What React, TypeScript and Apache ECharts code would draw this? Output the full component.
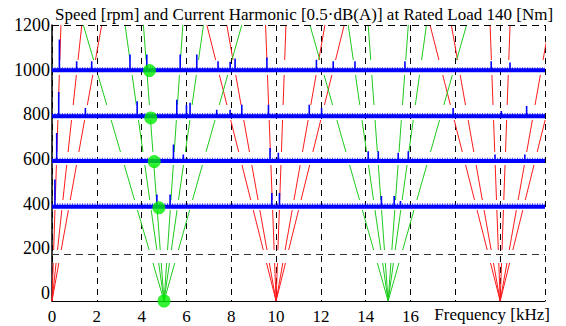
import React, { useEffect, useRef } from "react";
import * as echarts from "echarts";

// ---------- axes ----------
const X_MIN = 0;
const X_MAX = 22;
const X_INTERVAL = 2;
const Y_MIN = -35;
const Y_MAX = 1200;
const X_LABELS = [0, 2, 4, 6, 8, 10, 12, 14, 16];
const Y_LABELS = [0, 200, 400, 600, 800, 1000, 1200];
const DIVIDER_LEVEL = 176;

const TITLE = "Speed [rpm] and Current Harmonic [0.5\u00b7dB(A)] at Rated Load 140 [Nm]";
const X_NAME = "Frequency [kHz]";

// ---------- spectra baselines (speed levels) ----------
const SPEED_LEVELS = [997, 792, 592, 387];
// height of the noise floor's ragged top above each baseline
const NOISE_FLOOR_TOP = [10, 10, 9, 11];

// spikes: [frequency kHz, top value]
const SPIKES_1000: [number, number][] = [
  [0.33, 1135], [1.1, 1038], [1.77, 1038], [3.48, 1068], [4.23, 1068],
  [5.72, 1068], [6.46, 1068], [7.41, 1038], [7.95, 1035], [8.17, 1050],
  [9.59, 1055], [11.8, 1045], [12.55, 1038], [13.52, 1038], [15.75, 1038],
  [19.6, 1038], [20.44, 1032],
];
const SPIKES_800: [number, number][] = [
  [0.3, 900], [1.49, 829], [3.8, 859], [5.57, 866], [6.0, 843], [6.16, 852],
  [7.35, 821], [7.95, 821], [8.47, 843], [9.66, 843], [11.48, 843],
  [12.03, 829], [17.9, 829], [20.05, 815], [21.18, 838],
];
const SPIKES_600: [number, number][] = [
  [0.21, 717], [5.42, 665], [5.86, 620], [9.73, 650], [10.1, 628],
  [14.11, 635], [14.56, 635], [15.45, 628], [15.9, 635], [19.77, 620], [21.1, 620],
];
const SPIKES_400: [number, number][] = [
  [0.13, 509], [4.68, 442], [5.27, 442], [9.81, 448], [10.15, 448],
  [14.7, 435], [15.27, 435], [15.55, 412],
];

// ---------- harmonic fans: centre frequency at bottom, frequencies reached at the top ----------
const RED_CENTERS = [0, 10, 20];
const RED_TOPS = [
  [0.4, 1.33, 2.22],
  [6.91, 7.8, 9.53, 10.44, 12.18, 13.04],
  [16.87, 17.82, 19.55, 20.44, 22.19, 23.06],
];
const GREEN_CENTERS = [5, 15];
const GREEN_TOPS = [
  [1.4, 3.26, 4.08, 5.84, 6.76, 8.47],
  [11.51, 13.22, 14.11, 15.9, 16.71, 18.5],
];

// ---------- green markers ----------
const DOT_FREQS = [4.35, 4.41, 4.56, 4.77, 5.0];
const DOT_SPEEDS = [996, 784, 589, 382, -35];

// ---------- layout / style ----------
const W = 566;
const H = 326;
const GRID = { left: 52, right: 21, top: 25, bottom: 25 };
const FONT = "'Liberation Serif', 'DejaVu Serif', serif";
const RED = "#ff1a1a";
const GREEN = "#1ecb1e";
const BLUE = "#0000ff";
const DOT = "#00ee00";
// dash / gap lengths (px, bottom to top) of the broken fan lines
const FAN_DASH = [38, 13, 40, 10, 35, 13, 32, 15, 30, 15, 35, 40];

export default function App() {
  const ref = useRef<HTMLDivElement>(null);

  useEffect(() => {
    if (!ref.current) return;
    const chart = echarts.init(ref.current, undefined, { renderer: "svg" });

    const plotW = W - GRID.left - GRID.right;
    const plotH = H - GRID.top - GRID.bottom;
    const pxPerX = plotW / (X_MAX - X_MIN);

    const fanSeries = (centers: number[], tops: number[][], color: string) => {
      const out: any[] = [];
      centers.forEach((c, i) => {
        tops[i].forEach((t) => {
          const dx = (t - c) * pxPerX;
          const k = Math.sqrt(1 + (dx / plotH) * (dx / plotH));
          out.push({
            type: "line",
            data: [
              [c, Y_MIN],
              [t, Y_MAX],
            ],
            symbol: "none",
            silent: true,
            clip: true,
            z: 3,
            lineStyle: { color, width: 1, type: FAN_DASH.map((d) => d * k) },
          });
        });
      });
      return out;
    };

    const baselineSeries = SPEED_LEVELS.map((lv) => ({
      type: "line",
      data: [
        [X_MIN, lv],
        [X_MAX, lv],
      ],
      symbol: "none",
      silent: true,
      z: 4,
      lineStyle: { color: BLUE, width: 4 },
    }));

    const fuzzSeries = SPEED_LEVELS.map((lv, i) => ({
      type: "line",
      data: [
        [X_MIN, lv + NOISE_FLOOR_TOP[i]],
        [X_MAX, lv + NOISE_FLOOR_TOP[i]],
      ],
      symbol: "none",
      silent: true,
      z: 4,
      lineStyle: { color: BLUE, width: 2, type: [1, 1.5], opacity: 0.7 },
    }));

    const spikeSets = [SPIKES_1000, SPIKES_800, SPIKES_600, SPIKES_400];
    const spikeSeries = spikeSets.map((set, i) => {
      const lv = SPEED_LEVELS[i];
      const data: number[][] = [];
      set.forEach(([f, top]) => {
        data.push([f, lv], [f, top], [f, lv]);
      });
      return {
        type: "line",
        data,
        symbol: "none",
        silent: true,
        z: 4,
        lineStyle: { color: BLUE, width: 1.6 },
      };
    });

    const option: any = {
      animation: false,
      backgroundColor: "#ffffff",
      title: {
        text: TITLE,
        left: 50,
        top: 1,
        textStyle: { fontFamily: FONT, fontSize: 17, fontWeight: "normal", color: "#000" },
      },
      grid: { ...GRID },
      xAxis: {
        type: "value",
        min: X_MIN,
        max: X_MAX,
        interval: X_INTERVAL,
        axisLine: { show: true, onZero: false, lineStyle: { color: "#000", width: 1 } },
        axisTick: { show: false },
        splitLine: { show: true, lineStyle: { color: "#000", width: 1, type: [6, 5] } },
        axisLabel: {
          customValues: X_LABELS,
          margin: 7,
          fontFamily: FONT,
          fontSize: 17,
          color: "#000",
          formatter: (v: number) => String(v),
        },
      },
      yAxis: {
        type: "value",
        min: Y_MIN,
        max: Y_MAX,
        axisLine: { show: true, onZero: false, lineStyle: { color: "#000", width: 1.5 } },
        axisTick: { show: false },
        splitLine: { show: false },
        axisLabel: {
          customValues: Y_LABELS,
          margin: 2,
          fontFamily: FONT,
          fontSize: 18,
          color: "#000",
          formatter: (v: number) => String(v),
        },
      },
      graphic: [
        {
          type: "text",
          right: 16,
          top: 306,
          style: { text: X_NAME, font: `17px ${FONT}`, fill: "#000" },
          silent: true,
        },
      ],
      series: [
        {
          type: "line",
          data: [],
          markLine: {
            silent: true,
            symbol: "none",
            label: { show: false },
            data: [
              { yAxis: DIVIDER_LEVEL, lineStyle: { color: "#333", width: 1, type: [7, 5] } },
              { yAxis: Y_MAX, lineStyle: { color: "#000", width: 1, type: [7, 5] } },
            ],
          },
        },
        ...fanSeries(RED_CENTERS, RED_TOPS, RED),
        ...fanSeries(GREEN_CENTERS, GREEN_TOPS, GREEN),
        ...baselineSeries,
        ...fuzzSeries,
        ...spikeSeries,
        {
          type: "scatter",
          data: DOT_FREQS.map((f, i) => [f, DOT_SPEEDS[i]]),
          symbolSize: 13,
          itemStyle: { color: DOT },
          clip: false,
          silent: true,
          z: 10,
        },
      ],
    };

    chart.setOption(option);
    return () => chart.dispose();
  }, []);

  return (
    <div
      ref={ref}
      style={{ position: "fixed", left: 0, top: 0, width: W, height: H, background: "#fff" }}
    />
  );
}
